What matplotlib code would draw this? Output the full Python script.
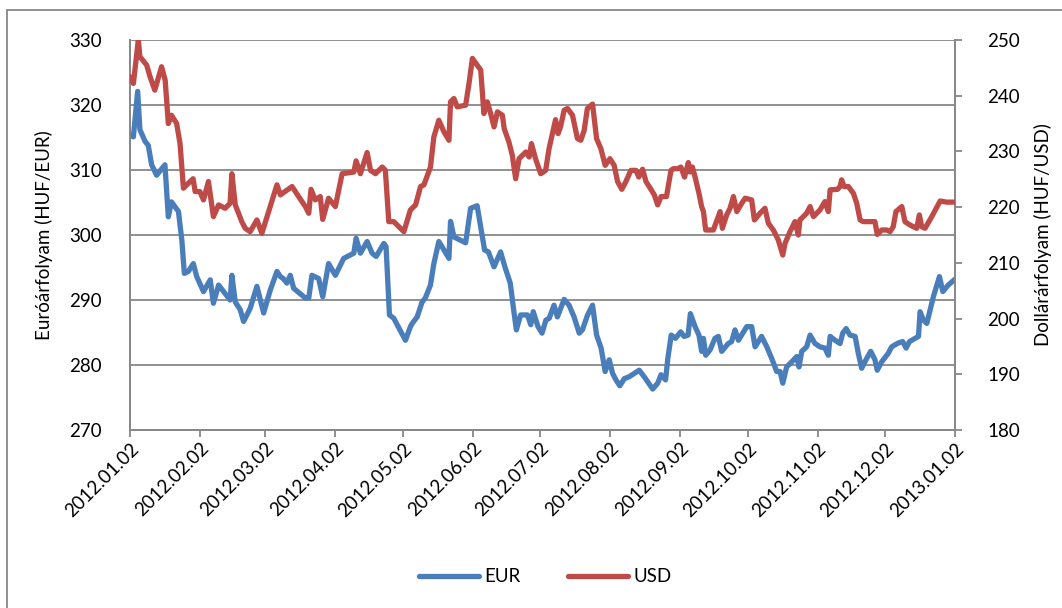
import matplotlib
matplotlib.use("Agg")
import matplotlib.pyplot as plt
import matplotlib.dates as mdates
import pandas as pd
from matplotlib.patches import Rectangle

plt.rcParams['font.family'] = ['Lato', 'DejaVu Sans']

# days since 2012-01-02 and values
eur_day = [0, 1.5, 3.4, 4.4, 6.7, 8.1, 9.6, 11.8, 15.5, 17, 18.4, 21.5, 23, 24.1, 25.9, 28.1, 29.6,
           32.6, 35.6, 37, 39.3, 42.2, 44.4, 45.2, 46.7, 48.9, 50.4, 53.3, 56.3, 59.3, 62.2,
           65.2, 66.7, 68, 69.6, 71.1, 72.6, 77.8, 79.3, 80.7, 83.7, 85.5, 88.1, 91.1, 94.8,
           99.3, 100.3, 102.2, 105.2, 107.4, 109.2, 112.6, 113.6, 115.1, 117, 122.2, 124.4,
           125.2, 127.4, 129.6, 131, 133.3, 134.8, 137, 139.3, 141.5, 142.2, 143.7, 148.9, 151.1,
           154, 156.3, 157.3, 159, 161.5, 164.4, 166.5, 168.7, 170.2, 171.4, 173.3, 176.3, 177.8,
           178.9, 181, 182.8, 184.5, 186, 188.1, 189.6, 192.6, 194.8, 197, 199.3, 200.7, 203,
           205.2, 207, 209, 210.8, 212.6, 214.1, 215.6, 217.3, 219.3, 221.5, 225.9, 228.1, 231.9,
           234.1, 235.6, 237.6, 238.6, 240.1, 242, 244.3, 245.8, 247.6, 248.6, 250.7, 252.4,
           253.6, 254.4, 255.4, 257.3, 259.5, 261, 262.5, 265.4, 266.9, 268.4, 269.9, 273.6,
           275.8, 277.3, 280.2, 282.5, 284.7, 286.9, 288.4, 289.6, 291.3, 293.6, 295.8, 296.8,
           298, 300.2, 301.7, 303.9, 306.1, 308.3, 309.8, 310.6, 312.8, 315, 316.2, 317.7, 319.4,
           321.7, 323.1, 324.6, 326.8, 328.6, 330.5, 331.5, 333.5, 336.4, 337.9, 340.9, 342.8,
           344.3, 345.8, 348.3, 349.8, 350.5, 352, 353.5, 356.4, 359.1, 360.6, 363, 366]
eur_val = [315.4, 315.1, 322.1, 316.2, 314.4, 313.8, 310.8, 309.2, 310.8, 302.8, 305.1, 303.6, 299.2,
           294.1, 294.4, 295.6, 293.6, 291.3, 293.1, 289.5, 292.3, 291.0, 290.0, 293.8, 289.7, 288.5,
           286.7, 288.7, 292.1, 288.0, 291.5,
           294.4, 293.6, 293.3, 292.6, 293.8, 291.8, 290.3, 290.3, 293.8, 293.3, 290.5, 295.6, 293.8,
           296.4, 297.2, 299.5, 297.2, 299.0, 297.2, 296.7, 298.7, 298.2, 287.7, 287.2, 283.8, 285.9,
           286.4, 287.4, 289.7, 290.3, 292.3, 295.6, 299.0, 297.7, 296.4, 302.1, 299.7, 298.8, 304.1,
           304.5, 299.7, 297.7, 297.4, 295.1, 297.4, 294.9, 292.6, 288.5, 285.4, 287.7, 287.7, 286.2,
           288.2, 285.9, 284.9, 286.9, 287.2, 289.2, 287.4, 290.1, 289.2, 287.4, 284.9, 285.4, 287.7,
           289.2, 284.6, 282.6, 279.0, 280.8, 278.7, 277.7, 276.8, 277.9, 278.2, 279.2, 278.2, 276.3,
           277.2, 278.5, 277.7, 281.0, 284.6, 284.1, 285.1, 284.4, 284.6, 287.9, 285.9, 284.6,
           282.1, 284.1, 281.5, 282.3, 284.1, 284.4, 282.1, 283.3, 283.6, 285.4, 283.8, 285.9,
           285.9, 282.8, 284.4, 282.8, 281.0, 279.0, 279.0, 277.2, 279.7, 280.5, 281.3, 279.7,
           282.1, 282.8, 284.6, 283.3, 282.8, 282.6, 281.5, 284.4, 283.8, 283.3, 284.9, 285.6, 284.6,
           284.4, 281.8, 279.5, 281.0, 282.1, 280.8, 279.2, 280.5, 281.8, 282.8, 283.4, 283.6,
           282.6, 283.6, 284.1, 284.4, 288.2, 286.9, 286.4, 290.5, 293.6, 291.3, 292.3, 293.2]

usd_day = [0, 1.5, 3.7, 4.4, 7.4, 8.9, 11, 14, 15.6, 17, 18.4, 20.7, 22.2, 23.7, 25.9, 28, 28.9, 31,
           32.6, 34.8, 37, 39.3, 42.2, 44.4, 45.2, 46.7, 49.6, 51.1, 53.3, 56.3, 58.5,
           65.2, 66.7, 71.9, 74.8, 77.8, 79.3, 80.3, 82.2, 84.4, 85.5, 88.1, 91.1, 94.1, 99.3,
           100.3, 102.2, 105.2, 106.7, 108.9, 111.9, 113.3, 114.8, 117, 121.5, 124.4,
           126.7, 128.9, 130.4, 133.3, 134.8, 137, 139.3, 141.5, 142.2, 143.7, 145.2, 148.9,
           150.4, 151.9, 155.6, 157, 158.5, 160, 161.5, 163, 165.2, 166, 168.1, 169.6, 171.1, 172.6,
           175.6, 177.1, 178.1, 179.9, 182.2, 184.4, 185.9, 188.1, 188.8, 189.9, 191, 192.6, 194.1,
           196.3, 198.5, 200, 201.5, 202.9, 205.2, 207, 208.9, 210.8, 212.9, 214.8, 216.3, 218.2,
           220, 222.2, 224.5, 225.7, 227.4, 228.9, 231.1, 232.6, 234.1, 235.6, 238, 240, 241, 243,
           244.4, 246, 247.7, 248.4, 249.5, 250.7, 252.4, 253.6, 254.4, 255.4, 258.8, 261, 261.8,
           262.8, 264.7, 266.2, 267.7, 269.2, 271.4, 272.9, 275.8, 277, 279.5, 281.7, 283.2,
           285.4, 287.6, 289.6, 290.6, 292.8, 295, 296.5, 297.2, 300.2, 301.7, 303.2,
           306.1, 308.3, 309.8, 310.6, 313.9, 315, 315.7, 316.8, 318.7, 320.9, 322.4, 323.9,
           325.3, 328.3, 330.5, 331.5, 333.5, 335.7, 337.2, 338.6, 339.8, 342.4, 343.8, 346, 349,
           350.2, 351.2, 352.7, 355.7, 359.4, 362.3, 366]
usd_val = [243.4, 242.2, 250.0, 247.0, 245.5, 243.4, 241.0, 245.2, 242.8, 235.0, 236.5, 235.0, 231.4,
           223.4, 224.3, 225.1, 222.8, 222.8, 221.3, 224.6, 218.3, 220.4, 219.8, 220.7, 226.0, 220.4,
           217.4, 216.2, 215.6, 217.7, 215.3,
           224.0, 222.2, 223.7, 221.9, 220.1, 218.9, 223.2, 221.3, 221.9, 217.8, 221.6, 220.1, 226.0,
           226.3, 228.3, 226.0, 229.8, 226.6, 226.0, 227.2, 226.6, 217.4, 217.4, 215.6, 219.5,
           220.4, 223.7, 224.0, 227.2, 232.6, 235.6, 233.5, 232.0, 238.9, 239.5, 238.0, 238.3,
           242.2, 246.7, 244.6, 236.8, 238.9, 236.8, 234.4, 237.1, 236.5, 234.1, 231.7, 229.3, 225.1,
           228.7, 229.9, 229.0, 231.4, 228.7, 226.0, 226.6, 230.5, 234.4, 235.7, 233.2, 234.4, 237.4,
           237.7, 236.5, 232.3, 232.0, 233.8, 237.7, 238.5, 232.3, 230.5, 227.5, 228.7, 227.5, 224.6,
           223.2, 224.6, 226.6, 226.6, 225.4, 226.8, 224.6, 223.2, 222.2, 220.4, 221.9, 221.9, 226.6,
           226.9, 226.9, 227.2, 225.4, 228.0, 226.3, 227.2, 225.4, 222.5, 220.1, 219.2, 215.9,
           215.9, 218.3, 219.2, 216.2, 218.6, 219.8, 221.9, 219.2, 220.7, 221.6, 221.3, 217.7,
           218.9, 219.8, 217.1, 215.9, 214.1, 211.4, 213.5, 215.6, 217.4, 215.0, 217.7, 218.9,
           220.1, 218.3, 219.5, 221.0, 219.2, 223.1, 223.2, 223.7, 224.9, 223.7, 223.7, 222.5,
           220.7, 217.7, 217.4, 217.4, 217.4, 215.1, 215.9, 215.9, 215.6, 216.5, 219.2, 220.1,
           217.4, 216.8, 216.2, 218.6, 216.5, 216.2, 218.3, 221.1, 220.9, 220.9]

start_date = "2012-01-02"
tick_dates = ["2012-01-02", "2012-02-02", "2012-03-02", "2012-04-02", "2012-05-02", "2012-06-02",
              "2012-07-02", "2012-08-02", "2012-09-02", "2012-10-02", "2012-11-02", "2012-12-02",
              "2013-01-02"]
eur_ticks = [270, 280, 290, 300, 310, 320, 330]
usd_ticks = [180, 190, 200, 210, 220, 230, 240, 250]

base = pd.Timestamp(start_date)
eur_x = base + pd.to_timedelta(eur_day, unit="D")
usd_x = base + pd.to_timedelta(usd_day, unit="D")
ticks = pd.to_datetime(tick_dates)

BLUE = "#4A7EBB"
RED = "#BE4B48"
GRID = "#888888"

fig = plt.figure(figsize=(10.62, 6.08), dpi=100)
ax = fig.add_axes([130 / 1062, 1 - 430 / 608, 825 / 1062, 390 / 608])
ax2 = ax.twinx()

l1, = ax.plot(eur_x, eur_val, color=BLUE, lw=3.8, solid_joinstyle="round",
              solid_capstyle="round", label="EUR", zorder=3)
l2, = ax2.plot(usd_x, usd_val, color=RED, lw=3.8, solid_joinstyle="round",
               solid_capstyle="round", label="USD", zorder=3)

ax.set_xlim(ticks[0], ticks[-1])
ax.set_ylim(eur_ticks[0], eur_ticks[-1])
ax2.set_ylim(usd_ticks[0], usd_ticks[-1])
ax.set_yticks(eur_ticks)
ax2.set_yticks(usd_ticks)
ax.set_xticks(ticks)
ax.xaxis.set_major_formatter(mdates.DateFormatter("%Y.%m.%d"))

ax.grid(axis="y", color=GRID, lw=1.3)
ax.set_axisbelow(True)
for sp in ["top"]:
    ax.spines[sp].set_visible(False)
    ax2.spines[sp].set_visible(False)
for a in (ax, ax2):
    for sp in ["left", "bottom", "right"]:
        a.spines[sp].set_color(GRID)
        a.spines[sp].set_linewidth(1.3)

fs = 13.5
ax.tick_params(axis="y", length=0, labelsize=fs, pad=20, colors="black")
ax.tick_params(axis="x", length=5, width=1.3, color=GRID, labelsize=fs, pad=2)
ax2.tick_params(axis="y", length=5, width=1.3, color=GRID, labelsize=fs, pad=18)
for lab in ax.get_xticklabels():
    lab.set_rotation(45)
    lab.set_ha("right")
    lab.set_va("top")
    lab.set_rotation_mode("anchor")

ax.set_ylabel("Euróárfolyam (HUF/EUR)", fontsize=fs, labelpad=12)
ax2.set_ylabel("Dollárárfolyam (HUF/USD)", fontsize=fs, labelpad=10, rotation=90)

fig.legend(handles=[l1, l2], labels=["EUR", "USD"], loc="center",
           bbox_to_anchor=(545 / 1062, 1 - 577 / 608), ncol=2, frameon=False,
           fontsize=fs, handlelength=3.2, columnspacing=2.5, handletextpad=0.3)

fig.patches.append(Rectangle((7 / 1062, -0.05), 1.2, 1 - 10 / 608 + 0.05,
                             transform=fig.transFigure, fill=False,
                             edgecolor=GRID, lw=1.3))

fig.savefig("out.png", dpi=100)
